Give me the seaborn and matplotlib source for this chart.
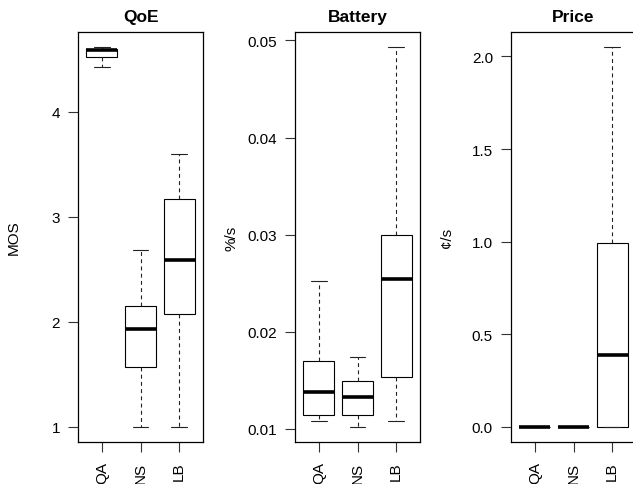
import pandas as pd
import matplotlib
matplotlib.use('Agg')
import matplotlib.pyplot as plt
import seaborn as sns

# ── Data: five-number summaries (min, q1, median, q3, max) ──
methods = ['QA', 'NS', 'LB']

qoe_qa = [4.43, 4.52, 4.59, 4.60, 4.615]
qoe_ns = [1.00, 1.57, 1.93, 2.155, 2.68]
qoe_lb = [1.00, 2.075, 2.585, 3.165, 3.60]

bat_qa = [0.01085, 0.01147, 0.01382, 0.0170, 0.0252]
bat_ns = [0.01021, 0.01147, 0.01326, 0.01491, 0.01742]
bat_lb = [0.01085, 0.01529, 0.02546, 0.0300, 0.04931]

price_qa = [0.0, 0.0, 0.0, 0.0, 0.0]
price_ns = [0.0, 0.0, 0.0, 0.0, 0.0]
price_lb = [0.0, 0.0, 0.389, 0.991, 2.05]

panels = [
    ('QoE', 'MOS', [qoe_qa, qoe_ns, qoe_lb], [1, 2, 3, 4], ['1', '2', '3', '4']),
    ('Battery', '%/s', [bat_qa, bat_ns, bat_lb], [0.01, 0.02, 0.03, 0.04, 0.05],
     ['0.01', '0.02', '0.03', '0.04', '0.05']),
    ('Price', '¢/s', [price_qa, price_ns, price_lb], [0.0, 0.5, 1.0, 1.5, 2.0],
     ['0.0', '0.5', '1.0', '1.5', '2.0']),
]

sns.set_theme(style='ticks', rc={'text.color': 'black', 'axes.labelcolor': 'black',
                                 'xtick.color': 'black', 'ytick.color': 'black'})
plt.rcParams['font.family'] = ['Liberation Sans', 'DejaVu Sans']

fig = plt.figure(figsize=(6.33, 4.85), dpi=100)
lefts = [78 / 633, 295 / 633, 511 / 633]
w, b, h = 125 / 633, 42 / 485, 410 / 485

for left, (title, ylabel, groups, yticks, ylabels) in zip(lefts, panels):
    ax = fig.add_axes([left, b, w, h])
    rows = []
    for m, vals in zip(methods, groups):
        for v in vals:
            rows.append({'method': m, 'value': v})
    df = pd.DataFrame(rows)

    sns.boxplot(data=df, x='method', y='value', order=methods, ax=ax,
                whis=(0, 100), width=0.8, showfliers=False,
                color='white', linecolor='black', linewidth=0.8,
                medianprops=dict(linewidth=2.6, color='black'),
                whiskerprops=dict(linestyle=(0, (3.5, 3)), color='#222222'),
                capprops=dict(color='#222222'))

    lo = min(min(g) for g in groups)
    hi = max(max(g) for g in groups)
    pad = (hi - lo) * 0.04
    ax.set_ylim(lo - pad, hi + pad)
    ax.set_xlim(-0.62, 2.62)
    ax.set_yticks(yticks)
    ax.set_yticklabels(ylabels)
    ax.set_xticks(range(len(methods)))
    ax.set_xticklabels(methods, rotation=90)
    ax.tick_params(axis='both', labelsize=11, length=7, width=0.8,
                   color='#333333', labelcolor='black', pad=6)
    ax.tick_params(axis='x', pad=7)
    ax.set_xlabel('')
    ax.set_ylabel(ylabel, fontsize=11, color='black')
    ax.yaxis.set_label_coords(-0.455, 0.5)
    ax.set_title(title, fontsize=12.5, fontweight='bold', pad=8, color='black')
    for s in ax.spines.values():
        s.set_visible(True)
        s.set_linewidth(0.9)
        s.set_color('black')

fig.savefig('out.png', dpi=100, facecolor='white')
